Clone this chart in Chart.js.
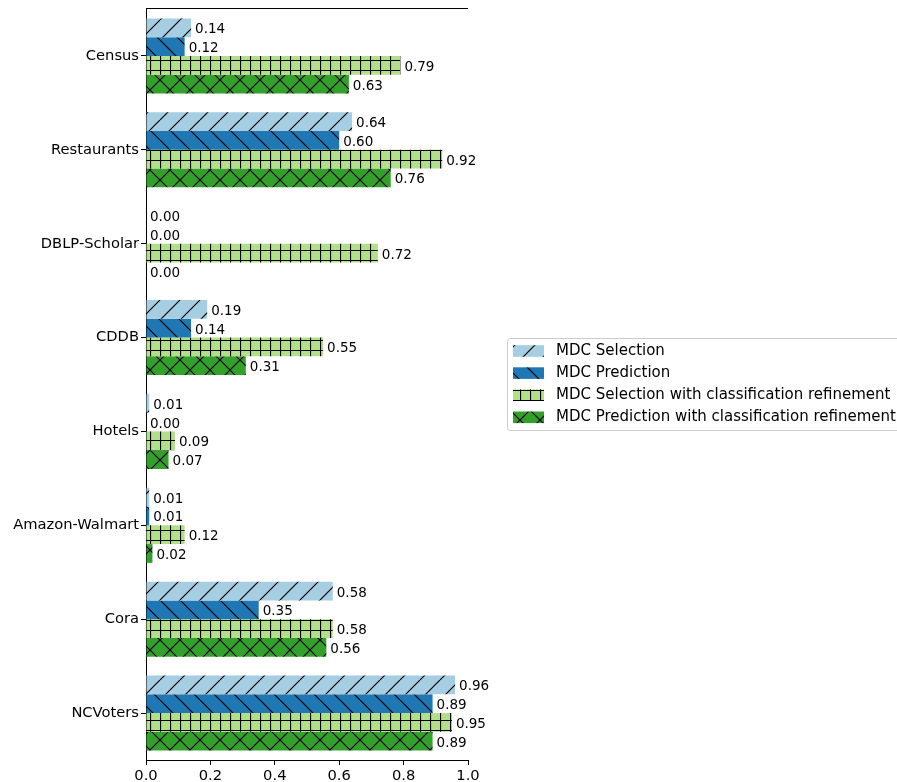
<!DOCTYPE html>
<html>
<head>
<meta charset="utf-8">
<script src="https://cdn.jsdelivr.net/npm/chart.js@4/dist/chart.umd.min.js"></script>
<style>
  html, body { margin: 0; padding: 0; background: #fff; }
  #chart { display: block; }
</style>
</head>
<body>
<canvas id="chart" width="897" height="782"></canvas>
<script>
// Dataset names and per-category scores
const categories = ['Census', 'Restaurants', 'DBLP-Scholar', 'CDDB', 'Hotels', 'Amazon-Walmart', 'Cora', 'NCVoters'];
const seriesNames = [
  'MDC Selection',
  'MDC Prediction',
  'MDC Selection with classification refinement',
  'MDC Prediction with classification refinement'
];
const mdcSelection         = [0.14, 0.64, 0.00, 0.19, 0.01, 0.01, 0.58, 0.96];
const mdcPrediction        = [0.12, 0.60, 0.00, 0.14, 0.00, 0.01, 0.35, 0.89];
const mdcSelectionRefined  = [0.79, 0.92, 0.72, 0.55, 0.09, 0.12, 0.58, 0.95];
const mdcPredictionRefined = [0.63, 0.76, 0.00, 0.31, 0.07, 0.02, 0.56, 0.89];
const xTicks = [0.0, 0.2, 0.4, 0.6, 0.8, 1.0];

const FONT = 'DejaVu Sans';
const canvas = document.getElementById('chart');
const ctx = canvas.getContext('2d');

// Build a repeating hatch fill on top of a solid colour
function hatch(bg, kind) {
  const s = kind === '+' ? 10 : 20;
  const c = document.createElement('canvas');
  c.width = s; c.height = s;
  const g = c.getContext('2d');
  g.fillStyle = bg;
  g.fillRect(0, 0, s, s);
  g.strokeStyle = '#000';
  g.lineWidth = 1.2;
  g.beginPath();
  if (kind === '/' || kind === 'x') {
    for (let k = -1; k <= 1; k++) { g.moveTo(k * s, s); g.lineTo(k * s + s, 0); }
  }
  if (kind === '\\' || kind === 'x') {
    for (let k = -1; k <= 1; k++) { g.moveTo(k * s, 0); g.lineTo(k * s + s, s); }
  }
  if (kind === '+') {
    g.moveTo(0.5, 0); g.lineTo(0.5, s);
    g.moveTo(0, 0.5); g.lineTo(s, 0.5);
  }
  g.stroke();
  return ctx.createPattern(c, 'repeat');
}

const fills = [
  hatch('#a6cee3', '/'),
  hatch('#1f78b4', '\\'),
  hatch('#b2df8a', '+'),
  hatch('#33a02c', 'x')
];
const seriesValues = [mdcSelection, mdcPrediction, mdcSelectionRefined, mdcPredictionRefined];

// Closing line along the top of the plot area
const topSpine = {
  id: 'topSpine',
  afterDraw(chart) {
    const a = chart.chartArea, c = chart.ctx;
    c.save();
    c.strokeStyle = '#000';
    c.lineWidth = 1;
    c.beginPath();
    c.moveTo(a.left, Math.round(a.top) - 0.5);
    c.lineTo(a.right, Math.round(a.top) - 0.5);
    c.stroke();
    c.restore();
  }
};

// Two-decimal value printed just past the end of each bar
const valueLabels = {
  id: 'valueLabels',
  afterDatasetsDraw(chart) {
    const c = chart.ctx;
    c.save();
    c.font = '13.5px "' + FONT + '"';
    c.fillStyle = '#000';
    c.textAlign = 'left';
    c.textBaseline = 'middle';
    chart.data.datasets.forEach((ds, i) => {
      chart.getDatasetMeta(i).data.forEach((bar, j) => {
        c.fillText(ds.data[j].toFixed(2), bar.x + 4, bar.y + 2);
      });
    });
    c.restore();
  }
};

// Legend box placed to the right of the plot
const sideLegend = {
  id: 'sideLegend',
  afterDraw(chart) {
    const c = chart.ctx;
    const x0 = 507, y0 = 338, w = 400, h = 92;
    c.save();
    c.fillStyle = 'rgba(255,255,255,0.8)';
    c.strokeStyle = '#cccccc';
    c.lineWidth = 1;
    c.beginPath();
    c.roundRect(x0 + 0.5, y0 + 0.5, w, h, 3);
    c.fill();
    c.stroke();
    c.font = '15px "' + FONT + '"';
    c.textBaseline = 'middle';
    c.textAlign = 'left';
    chart.data.datasets.forEach((ds, i) => {
      const cy = 351 + i * 22.1;
      c.fillStyle = ds.backgroundColor;
      c.fillRect(513, cy - 5.8, 31, 11.6);
      c.fillStyle = '#000';
      c.fillText(ds.label, 556, cy);
    });
    c.restore();
  }
};

const tickFont = { family: FONT, size: 14.7 };

new Chart(ctx, {
  type: 'bar',
  data: {
    labels: categories,
    datasets: seriesValues.map((vals, i) => ({
      label: seriesNames[i],
      data: vals,
      backgroundColor: fills[i],
      borderWidth: 0,
      categoryPercentage: 0.8,
      barPercentage: 1.0
    }))
  },
  options: {
    indexAxis: 'y',
    responsive: false,
    animation: false,
    devicePixelRatio: 1,
    layout: { padding: { top: 9, right: 429, bottom: 0, left: 0 } },
    plugins: {
      legend: { display: false },
      tooltip: { enabled: false }
    },
    scales: {
      x: {
        type: 'linear',
        position: 'bottom',
        min: 0,
        max: 1,
        afterBuildTicks: axis => { axis.ticks = xTicks.map(v => ({ value: v })); },
        ticks: {
          callback: v => Number(v).toFixed(1),
          color: '#000',
          font: tickFont,
          padding: 2,
          maxRotation: 0,
          autoSkip: false
        },
        grid: { drawOnChartArea: false, drawTicks: true, tickLength: 5, color: '#000' },
        border: { display: true, color: '#000', width: 1 },
        afterFit: s => { s.height = 22; s.paddingLeft = 0; s.paddingRight = 0; }
      },
      y: {
        ticks: { color: '#000', font: tickFont, padding: 2, autoSkip: false },
        grid: { offset: false, drawOnChartArea: false, drawTicks: true, tickLength: 5, color: '#000' },
        border: { display: true, color: '#000', width: 1 },
        afterFit: s => { s.width = 146; s.paddingTop = 0; s.paddingBottom = 0; }
      }
    }
  },
  plugins: [topSpine, valueLabels, sideLegend]
});
</script>
</body>
</html>
